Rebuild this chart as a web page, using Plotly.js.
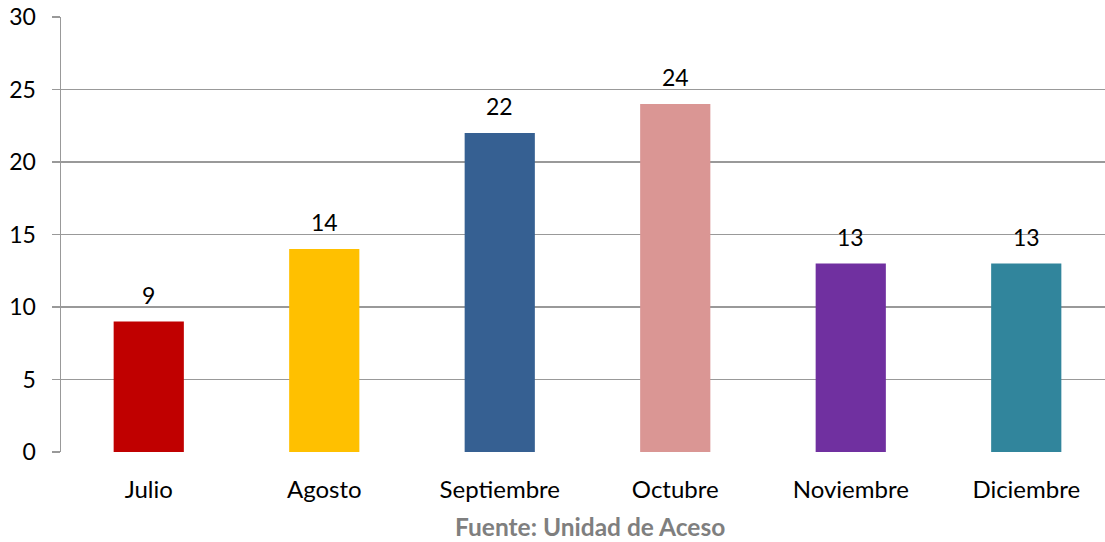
<!DOCTYPE html>
<html><head><meta charset="utf-8">
<script src="https://cdn.plot.ly/plotly-3.0.1.min.js"></script>
<style>html,body{margin:0;padding:0;overflow:hidden;background:#fff}</style>
</head><body><div id="chart"></div>
<script>
const months = ["Julio","Agosto","Septiembre","Octubre","Noviembre","Diciembre"];
const values = [9,14,22,24,13,13];
const colors = ["#C00000","#FFC000","#366092","#DA9694","#7030A0","#31859C"];
const yTicks = [0,5,10,15,20,25,30];
const sourceText = "Fuente: Unidad de Aceso";
const FONT = "Lato, 'Open Sans', sans-serif";

const labelAnns = months.map((m,i)=>({
  x:m, y:values[i], xref:"x", yref:"y", text:String(values[i]),
  showarrow:false, xanchor:"center", yanchor:"middle", yshift:27,
  font:{family:FONT,size:23,color:"#000"}
}));

Plotly.newPlot("chart",[{
  type:"bar", x:months, y:values,
  marker:{color:colors},
  width:0.4,
  hoverinfo:"none"
}],{
  width:1116, height:542,
  margin:{l:61,r:2,t:16.5,b:89.5},
  paper_bgcolor:"#fff", plot_bgcolor:"#fff",
  showlegend:false,
  xaxis:{type:"category",range:[-0.5,5.5],showgrid:false,zeroline:false,
    showline:false,ticks:"",ticklabelstandoff:21,
    tickfont:{family:FONT,size:24,color:"#000"}},
  yaxis:{range:[0,30],tickvals:yTicks,showgrid:true,gridcolor:"#999",gridwidth:1.5,
    zeroline:false,showline:true,linecolor:"#999",linewidth:1.5,
    ticks:"outside",ticklen:8,tickcolor:"#999",tickwidth:1.5,ticklabelstandoff:11,
    tickfont:{family:FONT,size:23,color:"#000"}},
  annotations:labelAnns.concat([{text:"<b>"+sourceText+"</b>",xref:"paper",yref:"paper",
    x:(590-61)/1053,y:-(527-452.5)/436,xanchor:"center",yanchor:"middle",showarrow:false,
    font:{family:FONT,size:24.5,color:"#7F7F7F"}}])
},{displayModeBar:false,staticPlot:true});
</script></body></html>
